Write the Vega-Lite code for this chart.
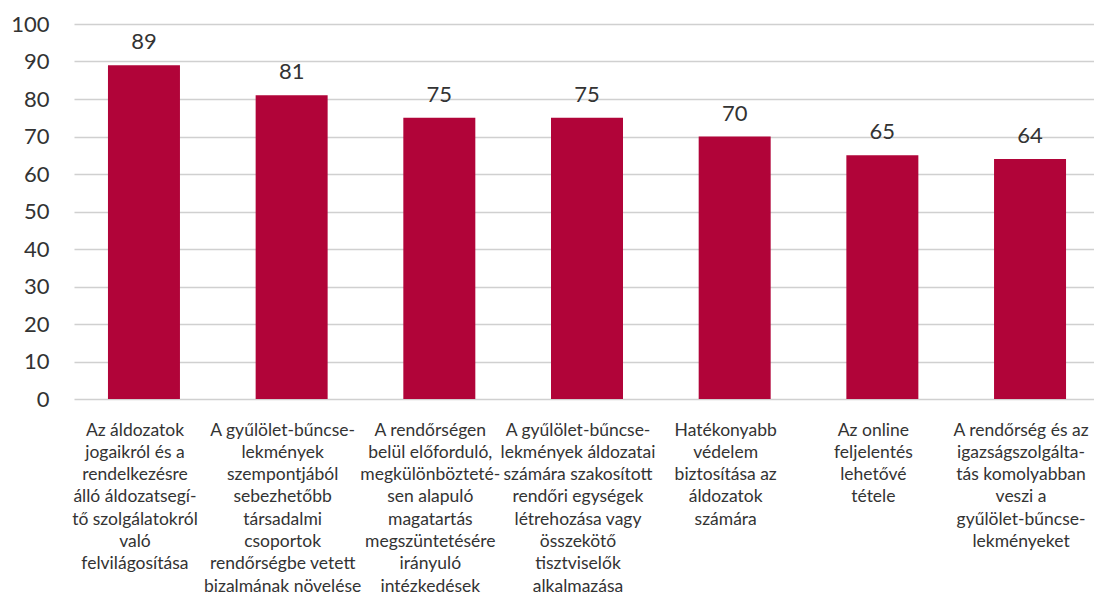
{
  "$schema": "https://vega.github.io/schema/vega-lite/v6.json",
  "autosize": "none",
  "padding": {"left": 74, "top": 24, "right": 0, "bottom": 203},
  "width": 1026,
  "height": 375,
  "background": "white",
  "config": {
    "view": {"stroke": null},
    "font": "Lato"
  },
  "data": {
    "values": [
      {"label": "Az áldozatok|jogaikról és a|rendelkezésre|álló áldozatsegí-|tő szolgálatokról|való|felvilágosítása", "value": 89},
      {"label": "A gyűlölet-bűncse-|lekmények|szempontjából|sebezhetőbb|társadalmi|csoportok|rendőrségbe vetett|bizalmának növelése", "value": 81},
      {"label": "A rendőrségen|belül előforduló,|megkülönbözteté-|sen alapuló|magatartás|megszüntetésére|irányuló|intézkedések", "value": 75},
      {"label": "A gyűlölet-bűncse-|lekmények áldozatai|számára szakosított|rendőri egységek|létrehozása vagy|összekötő|tisztviselők|alkalmazása", "value": 75},
      {"label": "Hatékonyabb|védelem|biztosítása az|áldozatok|számára", "value": 70},
      {"label": "Az online|feljelentés|lehetővé|tétele", "value": 65},
      {"label": "A rendőrség és az|igazságszolgálta-|tás komolyabban|veszi a|gyűlölet-bűncse-|lekményeket", "value": 64}
    ]
  },
  "encoding": {
    "x": {
      "field": "label",
      "type": "nominal",
      "sort": null,
      "scale": {"paddingInner": 0.5125, "paddingOuter": 0.23},
      "axis": {
        "title": null,
        "labelAngle": 0,
        "labelExpr": "split(datum.label, '|')",
        "labelFontSize": 17.5,
        "labelLineHeight": 22.3,
        "labelColor": "#333333",
        "labelPadding": 22,
        "labelOffset": -9,
        "labelLimit": 0,
        "labelBaseline": "top",
        "domain": false,
        "ticks": false
      }
    },
    "y": {
      "field": "value",
      "type": "quantitative",
      "scale": {"domain": [0, 100], "nice": false},
      "axis": {
        "title": null,
        "values": [0, 10, 20, 30, 40, 50, 60, 70, 80, 90, 100],
        "labelFontSize": 22,
        "labelColor": "#333333",
        "labelPadding": 25,
        "domain": false,
        "ticks": false,
        "gridColor": "#D0D0D0",
        "gridWidth": 1.5
      }
    }
  },
  "layer": [
    {"mark": {"type": "bar", "color": "#B10439"}},
    {
      "mark": {"type": "text", "baseline": "alphabetic", "dy": -16, "fontSize": 22, "color": "#333333"},
      "encoding": {"text": {"field": "value", "type": "quantitative"}}
    }
  ]
}
